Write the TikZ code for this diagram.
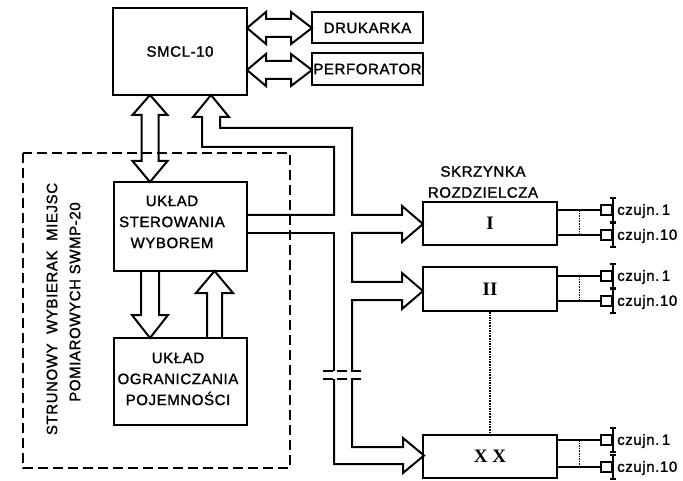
\documentclass[tikz,border=0pt]{standalone}
\usepackage{fontspec}
\setmainfont{Liberation Sans}[LetterSpace=4, FakeBold=1.5]
\newfontfamily\numfont{Liberation Serif}
\usetikzlibrary{calc}

\tikzset{
  blok/.style={draw, line width=2pt, inner sep=0pt, align=center, font=\fontsize{15}{21}\selectfont},
  opis/.style={font=\fontsize{15}{21}\selectfont, align=center},
  szyna/.style={line width=2pt, line join=miter},
  kropki/.style={densely dotted, line width=1.6pt},
  liczba/.style={font=\numfont\bfseries\fontsize{19}{19}\selectfont},
}

% sensor symbol: coordinate, node name, label
\newcommand{\czujnik}[3]{%
  \begin{scope}[shift={(#1)}]
    \draw [line width=1.6pt] (0,-5) rectangle (11,5);
    \draw [line width=2pt] (12,-12) -- (12,12);
    \draw [line width=1.6pt] (9,-12) -- (15,-12) (9,12) -- (15,12);
    \node [opis, anchor=west, inner sep=2pt] (#2) at (14,1) {#3};
  \end{scope}}

\begin{document}
\begin{tikzpicture}[x=1pt, y=-1pt]
  \useasboundingbox (0,0) rectangle (683,481);

  % computer and its devices
  \node [blok, minimum width=134pt, minimum height=87pt] (smcl) at (180,51.5) {SMCL-10};
  \node [blok, minimum width=111pt, minimum height=31pt] (druk) at (367.5,28) {DRUKARKA};
  \node [blok, minimum width=111pt, minimum height=32pt] (perf) at (367.5,69) {PERFORATOR};

  % selector
  \node [blok, minimum width=133pt, minimum height=89pt] (ster) at (180.5,226.5) {};
  \node [opis] (sterTxt) at (172,222) {UKŁAD\\STEROWANIA\\WYBOREM};
  \node [blok, minimum width=133pt, minimum height=87pt] (ogr) at (180.5,381.5) {};
  \node [opis] (ogrTxt) at (178,379) {UKŁAD\\OGRANICZANIA\\POJEMNOŚCI};
  \draw [dashed, dash pattern=on 10pt off 5pt, line width=1.6pt] (23,153) rectangle (290,468);
  \node [opis, rotate=90] (napis1) at (52,309) {STRUNOWY\ \ WYBIERAK\ \ MIEJSC};
  \node [opis, rotate=90] (napis2) at (75,302) {POMIAROWYCH SWMP-20};

  % distribution boxes
  \node [blok, liczba, minimum width=134pt, minimum height=43pt] (b1) at (490,223.5) {I};
  \node [blok, liczba, minimum width=134pt, minimum height=44pt] (b2) at (490,289) {II};
  \node [blok, liczba, minimum width=134pt, minimum height=43pt] (b20) at (490,456.5) {X X};
  \node [opis] (skrz) at (483,182) {SKRZYNKA\\ROZDZIELCZA};
  \draw [kropki] (b2.south) -- (b20.north);

  % block arrows
  \draw [szyna] (247,28) -- (266,12) -- (266,19) -- (291,19) -- (291,12) -- (312,28)
    -- (291,44) -- (291,37) -- (266,37) -- (266,44) -- cycle;
  \draw [szyna] (247,70) -- (266,54) -- (266,61) -- (291,61) -- (291,54) -- (312,70)
    -- (291,86) -- (291,79) -- (266,79) -- (266,86) -- cycle;
  \draw [szyna] (150,95) -- (167.5,115) -- (158.5,115) -- (158.5,161) -- (167.5,161) -- (150,182)
    -- (132.5,161) -- (141.5,161) -- (141.5,115) -- (132.5,115) -- cycle;
  \draw [szyna] (141,271) -- (141,315) -- (132,315) -- (150,338) -- (168,315) -- (159,315) -- (159,271);
  \draw [szyna] (207,338) -- (207,293) -- (196,293) -- (214.5,271) -- (233,293) -- (222,293) -- (222,338);

  % bus to the distribution boxes
  \draw [szyna] (247,215) -- (334,215) -- (334,147) -- (202,147) -- (202,117) -- (193,117)
    -- (211,95) -- (229,117) -- (220,117) -- (220,128) -- (352,128) -- (352,215)
    -- (402,215) -- (402,206) -- (423,224) -- (402,242) -- (402,233) -- (352,233)
    -- (352,282) -- (402,282) -- (402,273) -- (423,291) -- (402,309) -- (402,300)
    -- (352,300) -- (352,371);
  \draw [szyna] (352,379) -- (352,447) -- (403,447) -- (403,438) -- (424,455.5) -- (403,473)
    -- (403,464) -- (334,464) -- (334,379);
  \draw [szyna] (334,371) -- (334,233) -- (247,233);
  \draw [dashed, dash pattern=on 10pt off 4pt, line width=1.5pt] (323,371) -- (363,371) (323,379) -- (363,379);

  % sensors
  \coordinate (s1a) at (601,210);
  \coordinate (s1b) at (601,235);
  \coordinate (s2a) at (601,276);
  \coordinate (s2b) at (601,301);
  \coordinate (s20a) at (601,440);
  \coordinate (s20b) at (601,467);

  \draw [szyna] (b1.east |- s1a) -- (s1a) (b1.east |- s1b) -- (s1b);
  \draw [szyna] (b2.east |- s2a) -- (s2a) (b2.east |- s2b) -- (s2b);
  \draw [szyna] (b20.east |- s20a) -- (s20a) (b20.east |- s20b) -- (s20b);
  \draw [kropki] ($(b1.east |- s1a)!.5!(s1a)$) -- ($(b1.east |- s1b)!.5!(s1b)$);
  \draw [kropki] ($(b2.east |- s2a)!.5!(s2a)$) -- ($(b2.east |- s2b)!.5!(s2b)$);
  \draw [kropki] ($(b20.east |- s20a)!.5!(s20a)$) -- ($(b20.east |- s20b)!.5!(s20b)$);

  \czujnik{s1a}{c1a}{czujn.\,1}
  \czujnik{s1b}{c1b}{czujn.10}
  \czujnik{s2a}{c2a}{czujn.\,1}
  \czujnik{s2b}{c2b}{czujn.10}
  \czujnik{s20a}{c20a}{czujn.\,1}
  \czujnik{s20b}{c20b}{czujn.10}

\end{tikzpicture}
\end{document}
